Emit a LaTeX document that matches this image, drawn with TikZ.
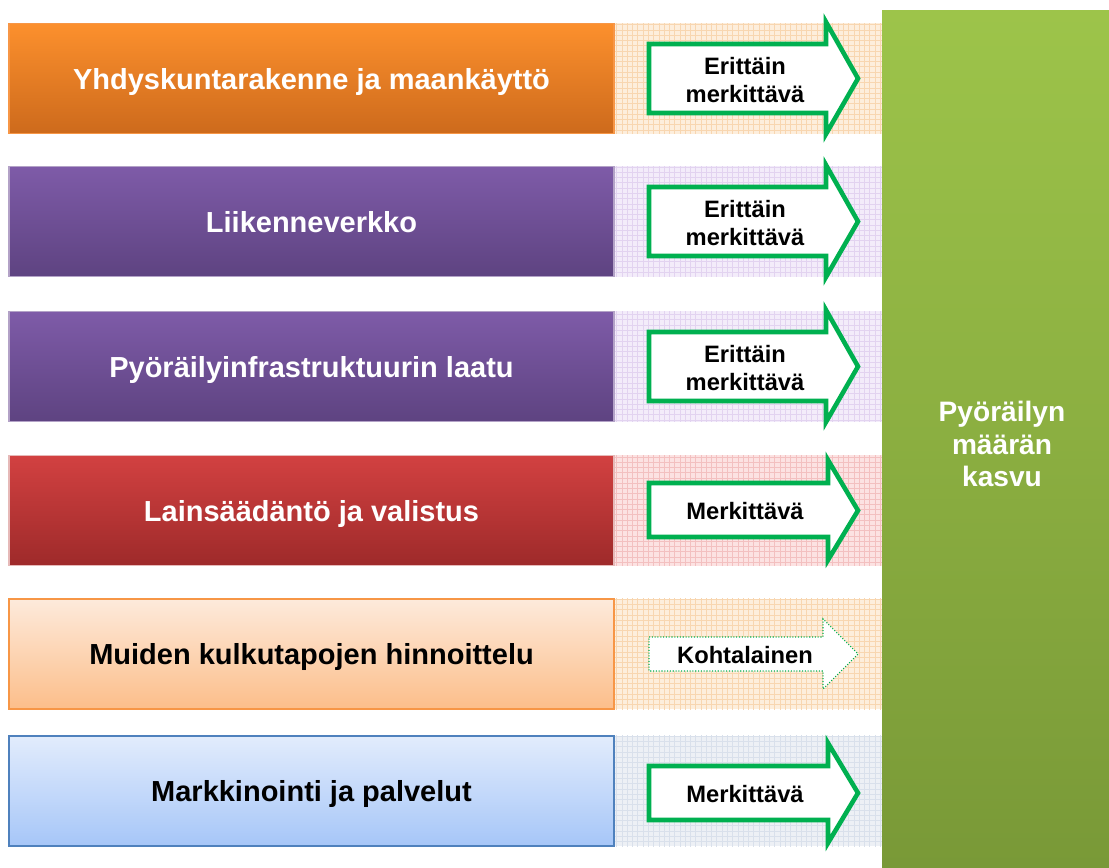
\documentclass[tikz,border=0pt]{standalone}
\usepackage{fontspec}
\setmainfont{Liberation Sans}
\usepackage{tikz}
\usetikzlibrary{positioning}
\usetikzlibrary{patterns}

\definecolor{effgreen}{HTML}{00B050}
\definecolor{orangetop}{HTML}{FC902D}
\definecolor{orangebot}{HTML}{CD6A1C}
\definecolor{orangeline}{HTML}{F79646}
\definecolor{purpletop}{HTML}{7E5BA8}
\definecolor{purplebot}{HTML}{5E4381}
\definecolor{purpleline}{HTML}{B3A2C7}
\definecolor{redtop}{HTML}{D24141}
\definecolor{redbot}{HTML}{9E2A2A}
\definecolor{redline}{HTML}{E6B9B8}
\definecolor{peachtop}{HTML}{FDEADB}
\definecolor{peachbot}{HTML}{FCBE8A}
\definecolor{bluetop}{HTML}{E2ECFC}
\definecolor{bluebot}{HTML}{A6C6F8}
\definecolor{blueline}{HTML}{4F81BD}
\definecolor{greentop}{HTML}{9DC44A}
\definecolor{greenbot}{HTML}{799937}
\definecolor{peachbg}{HTML}{FDEEDC}
\definecolor{peachgrid}{HTML}{F8D6B0}
\definecolor{lilacbg}{HTML}{F3ECFA}
\definecolor{lilacgrid}{HTML}{E2D3F0}
\definecolor{pinkbg}{HTML}{FCE2E2}
\definecolor{pinkgrid}{HTML}{F3C0C0}
\definecolor{greybg}{HTML}{EDF0F5}
\definecolor{greygrid}{HTML}{D9E0EB}

\begin{document}
\begin{tikzpicture}[x=0.02cm,y=-0.02cm,
    factor/.style={minimum width=12.1cm,minimum height=2.2cm,inner sep=0pt,outer sep=0pt,
      line width=1pt,text depth=0pt,font=\fontsize{16.5}{19}\selectfont\bfseries},
    strip/.style={minimum width=5.34cm,minimum height=2.22cm,inner sep=0pt,outer sep=0pt},
    effect/.style={draw=effgreen,line width=2.6pt,fill=white,line join=miter},
    efftext/.style={font=\fontsize{13.5}{16.4}\selectfont\bfseries,align=center}]
  \useasboundingbox (0,0) rectangle (1109,868);

  % strips behind the arrows
  \node[strip,fill=peachbg,postaction={pattern=grid,pattern color=peachgrid}] (s1) at (748.5,78.5) {};
  \node[strip,fill=lilacbg,postaction={pattern=grid,pattern color=lilacgrid}] (s2) at (748.5,221.5) {};
  \node[strip,fill=lilacbg,postaction={pattern=grid,pattern color=lilacgrid}] (s3) at (748.5,366.5) {};
  \node[strip,fill=pinkbg,postaction={pattern=grid,pattern color=pinkgrid}] (s4) at (748.5,510.5) {};
  \node[strip,fill=peachbg,postaction={pattern=grid,pattern color=peachgrid}] (s5) at (748.5,654) {};
  \node[strip,fill=greybg,postaction={pattern=grid,pattern color=greygrid}] (s6) at (748.5,791) {};

  % factors
  \node[factor,draw=orangeline,top color=orangetop,bottom color=orangebot,text=white] (yhd) at (311.5,78.5) {Yhdyskuntarakenne ja maankäyttö};
  \node[factor,draw=purpleline,top color=purpletop,bottom color=purplebot,text=white] (lii) at (311.5,221.5) {Liikenneverkko};
  \node[factor,draw=purpleline,top color=purpletop,bottom color=purplebot,text=white] (inf) at (311.5,366.5) {Pyöräilyinfrastruktuurin laatu};
  \node[factor,draw=redline,top color=redtop,bottom color=redbot,text=white] (lak) at (311.5,510.5) {Lainsäädäntö ja valistus};
  \node[factor,draw=orangeline,top color=peachtop,bottom color=peachbot,text=black] (hin) at (311.5,654) {Muiden kulkutapojen hinnoittelu};
  \node[factor,draw=blueline,top color=bluetop,bottom color=bluebot,text=black] (mar) at (311.5,791) {Markkinointi ja palvelut};

  % result
  \node[minimum width=4.54cm,minimum height=17.16cm,inner sep=0pt,outer sep=0pt,
    top color=greentop,bottom color=greenbot,text=white,align=center,
    font=\fontsize{16}{18.7}\selectfont\bfseries] (kasvu) at (995.5,439) {};
  \node[text=white,align=center,font=\fontsize{16}{18.7}\selectfont\bfseries] (kasvutxt) at (1002,444) {Pyöräilyn\\määrän\\kasvu};

  % arrows
  \draw[effect] (649,44) -- (826,44) -- (826,22) -- (858,78.5) -- (826,134) -- (826,113) -- (649,113) -- cycle;
  \draw[effect] (649,187) -- (826,187) -- (826,165) -- (858,221.5) -- (826,277) -- (826,256) -- (649,256) -- cycle;
  \draw[effect] (649,332) -- (826,332) -- (826,310) -- (858,366.5) -- (826,422) -- (826,401) -- (649,401) -- cycle;
  \draw[effect] (649,483) -- (828,483) -- (828,460) -- (858,510.5) -- (828,560) -- (828,537) -- (649,537) -- cycle;
  \draw[effect,line width=0.6pt,densely dotted] (649,637) -- (823,637) -- (823,619) -- (858,654) -- (823,689) -- (823,671) -- (649,671) -- cycle;
  \draw[effect] (649,766) -- (828,766) -- (828,743) -- (858,793) -- (828,843) -- (828,820) -- (649,820) -- cycle;

  \node[efftext] (e1) at (745,80) {Erittäin\\merkittävä};
  \node[efftext] (e2) at (745,223) {Erittäin\\merkittävä};
  \node[efftext] (e3) at (745,368) {Erittäin\\merkittävä};
  \node[efftext] (e4) at (745,511) {Merkittävä};
  \node[efftext] (e5) at (745,655) {Kohtalainen};
  \node[efftext] (e6) at (745,794) {Merkittävä};
\end{tikzpicture}
\end{document}
